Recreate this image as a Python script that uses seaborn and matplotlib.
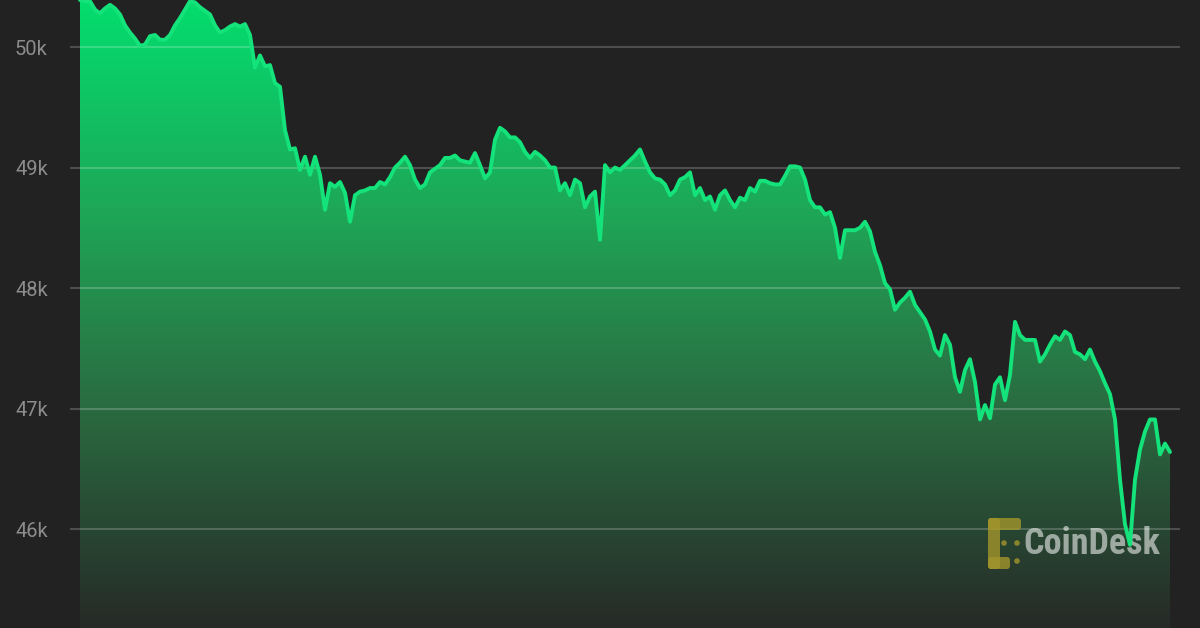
import numpy as np
import pandas as pd
import matplotlib
matplotlib.use("Agg")
import matplotlib.pyplot as plt
import seaborn as sns
from matplotlib.colors import LinearSegmentedColormap
from matplotlib.patches import Polygon, FancyBboxPatch, Circle
from matplotlib.transforms import IdentityTransform

# BTC price (USD) at regular intervals
price = [
    50390, 50380, 50380, 50310, 50280, 50320, 50350, 50320, 50270, 50180,
    50120, 50070, 50010, 50020, 50090, 50100, 50060, 50060, 50100, 50180,
    50240, 50310, 50380, 50370, 50330, 50300, 50270, 50180, 50120, 50140,
    50170, 50190, 50170, 50190, 50100, 49830, 49930, 49840, 49850, 49700,
    49670, 49310, 49150, 49160, 48980, 49090, 48940, 49090, 48940, 48650,
    48870, 48840, 48880, 48790, 48550, 48770, 48800, 48810, 48830, 48830,
    48880, 48860, 48920, 49000, 49040, 49090, 49020, 48900, 48830, 48860,
    48960, 48990, 49020, 49080, 49080, 49100, 49060, 49050, 49040, 49120,
    49020, 48910, 48960, 49230, 49330, 49300, 49250, 49250, 49210, 49130,
    49080, 49130, 49100, 49060, 49000, 49000, 48810, 48870, 48770, 48900,
    48870, 48670, 48760, 48800, 48400, 49020, 48960, 49000, 48980, 49020,
    49060, 49100, 49150, 49050, 48960, 48910, 48900, 48860, 48770, 48810,
    48900, 48920, 48960, 48770, 48830, 48730, 48760, 48650, 48770, 48810,
    48730, 48670, 48750, 48730, 48830, 48800, 48890, 48890, 48870, 48860,
    48860, 48930, 49010, 49010, 49000, 48900, 48730, 48670, 48670, 48610,
    48630, 48500, 48250, 48480, 48480, 48480, 48500, 48550, 48470, 48300,
    48190, 48040, 47990, 47820, 47880, 47920, 47970, 47860, 47800, 47740,
    47640, 47490, 47440, 47610, 47530, 47260, 47140, 47320, 47410, 47220,
    46910, 47030, 46920, 47200, 47260, 47070, 47280, 47720, 47610, 47570,
    47570, 47570, 47390, 47450, 47530, 47600, 47570, 47640, 47610, 47470,
    47450, 47410, 47490, 47390, 47310, 47210, 47120, 46910, 46410, 46040,
    45870, 46410, 46660, 46810, 46910, 46910, 46620, 46710, 46640,
]
tick_values = [46000, 47000, 48000, 49000, 50000]
tick_labels = ["46k", "47k", "48k", "49k", "50k"]

BG = "#222222"
LINE = "#14e27a"

df = pd.DataFrame({"step": np.arange(len(price)), "price": price})
n = len(df)
y_lo, y_hi = 45180, 50390

sns.set_theme(style="dark", rc={"figure.facecolor": BG, "axes.facecolor": BG})
plt.rcParams["font.family"] = ["Roboto", "DejaVu Sans"]

fig = plt.figure(figsize=(12, 6.28), dpi=100)
ax = fig.add_axes([70 / 1200, 0, 1110 / 1200, 1])

# gradient fill under the line
cmap = LinearSegmentedColormap.from_list(
    "fill", [(0, "#262a27"), (0.35, "#2a6b40"), (0.65, "#1fa456"), (1, "#03de6e")]
)
grad = np.linspace(0, 1, 256).reshape(-1, 1)
img = ax.imshow(grad, cmap=cmap, origin="lower", aspect="auto",
                extent=[0, n - 1, y_lo, y_hi], zorder=1)
verts = [(0, y_lo)] + list(zip(df["step"], df["price"])) + [(n - 1, y_lo)]
area = Polygon(verts, closed=True, facecolor="none", edgecolor="none")
ax.add_patch(area)
img.set_clip_path(area)

for v in tick_values:
    ax.axhline(v, color="white", alpha=0.2, lw=1.5, zorder=2)

sns.lineplot(data=df, x="step", y="price", color=LINE, linewidth=2.8, ax=ax, zorder=4)

ax.set_xlim(-2, n + 1)
ax.set_ylim(y_lo, y_hi)
ax.set_xlabel("")
ax.set_ylabel("")
ax.set_xticks([])
ax.set_yticks(tick_values, tick_labels)
ax.tick_params(axis="y", length=0, pad=16, labelsize=14.5, labelcolor="#8c8c8c")
for s in ax.spines.values():
    s.set_visible(False)
ax.grid(False)

# CoinDesk watermark
ax.text(1160 / 1200, 1 - 544 / 628, "CoinDesk", transform=fig.transFigure,
        ha="right", va="center", fontsize=26, fontweight="bold", color="white",
        alpha=0.55, zorder=3,
        family=["Liberation Sans Narrow", "Roboto Condensed", "Roboto", "DejaVu Sans"])
gold = "#a3952c"
px = IdentityTransform()
for (x0, y0, w, h) in [(988, 518, 12, 51), (988, 518, 33, 12), (988, 557, 22, 12)]:
    ax.add_patch(FancyBboxPatch((x0 + 3, 628 - y0 - h + 3), w - 6, h - 6,
                                boxstyle="round,pad=3", facecolor=gold, edgecolor="none",
                                alpha=0.8, transform=px, zorder=3, clip_on=False))
for (cx, cy) in [(1004, 543), (1017, 543), (1017, 561)]:
    ax.add_patch(Circle((cx, 628 - cy), 2.8, facecolor=gold, edgecolor="none",
                        alpha=0.8, transform=px, zorder=3, clip_on=False))

fig.savefig("out.png", dpi=100, facecolor=BG)
